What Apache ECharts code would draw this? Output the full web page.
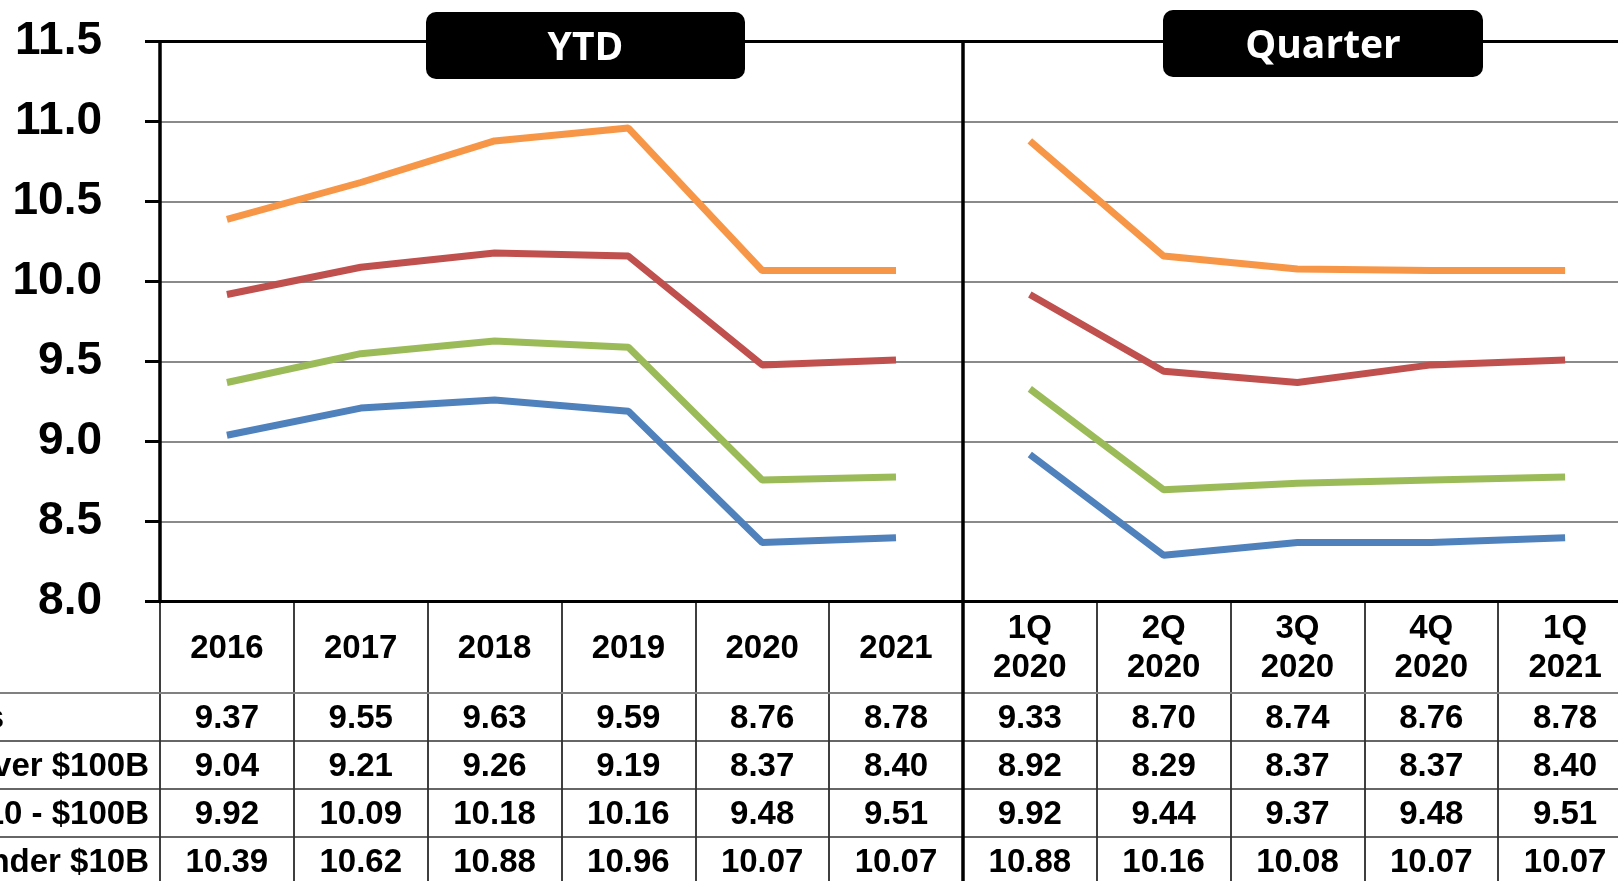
<!DOCTYPE html>
<html>
<head>
<meta charset="utf-8">
<script src="https://cdn.jsdelivr.net/npm/echarts@6/dist/echarts.min.js"></script>
<style>
  html, body { margin: 0; padding: 0; background: #fff; }
  #main { width: 1618px; height: 881px; }
</style>
</head>
<body>
<div id="main"></div>
<script>
// categories (YTD columns, then quarter columns)
const ytdCats = ['2016', '2017', '2018', '2019', '2020', '2021'];
const qtrCats = ['1Q\n2020', '2Q\n2020', '3Q\n2020', '4Q\n2020', '1Q\n2021'];
const yMin = 8.0, yMax = 11.5, yStep = 0.5;

// table rows / series values (YTD 6 values, then 5 quarters)
const rowNames = ['All Banks', 'Over $100B', '$10 - $100B', 'Under $10B'];
const allBanks = [9.37, 9.55, 9.63, 9.59, 8.76, 8.78, 9.33, 8.70, 8.74, 8.76, 8.78];
const over100B = [9.04, 9.21, 9.26, 9.19, 8.37, 8.40, 8.92, 8.29, 8.37, 8.37, 8.40];
const mid10to100B = [9.92, 10.09, 10.18, 10.16, 9.48, 9.51, 9.92, 9.44, 9.37, 9.48, 9.51];
const under10B = [10.39, 10.62, 10.88, 10.96, 10.07, 10.07, 10.88, 10.16, 10.08, 10.07, 10.07];

const rows = [allBanks, over100B, mid10to100B, under10B];
const colors = ['#9BBB59', '#4F81BD', '#C0504D', '#F79646'];
const cats = ytdCats.concat(qtrCats);
const nY = ytdCats.length;

const font = 'Liberation Sans, Arial, sans-serif';

// each row is drawn as two pieces so the YTD and quarter lines stay apart
const series = [];
rows.forEach((vals, k) => {
  const style = { color: colors[k], width: 7 };
  series.push({
    name: rowNames[k] + ' YTD', type: 'line', symbol: 'none',
    lineStyle: style, itemStyle: { color: colors[k] },
    data: vals.slice(0, nY)
  });
  series.push({
    name: rowNames[k] + ' Qtr', type: 'line', symbol: 'none',
    lineStyle: style, itemStyle: { color: colors[k] },
    data: ytdCats.map(() => '-').concat(vals.slice(nY))
  });
});

const chart = echarts.init(document.getElementById('main'));

const option = {
  animation: false,
  backgroundColor: '#fff',
  grid: { left: 160, top: 41.7, width: 1472, height: 560, outerBoundsMode: 'none' },
  xAxis: [
    {
      type: 'category', data: cats, boundaryGap: true, position: 'bottom',
      axisLine: { show: true, lineStyle: { color: '#000', width: 3 } },
      axisTick: { show: true, interval: 0, length: 280, lineStyle: { color: '#000', width: 1.5 } },
      axisLabel: {
        interval: 0, margin: 47, verticalAlign: 'middle', color: '#000',
        fontFamily: font, fontWeight: 'bold', fontSize: 33, lineHeight: 39
      },
      splitLine: { show: false }
    },
    {
      type: 'category', data: cats, position: 'top',
      axisLine: { show: true, lineStyle: { color: '#000', width: 3 } },
      axisTick: { show: false }, axisLabel: { show: false }, splitLine: { show: false }
    }
  ],
  yAxis: {
    type: 'value', min: yMin, max: yMax, interval: yStep,
    axisLine: { show: true, lineStyle: { color: '#000', width: 3.5 } },
    axisTick: { show: true, length: 15, lineStyle: { color: '#000', width: 3 } },
    axisLabel: {
      margin: 58, color: '#000', fontFamily: font, fontWeight: 'bold', fontSize: 46,
      padding: [10, 0, 0, 0],
      formatter: v => v.toFixed(1)
    },
    splitLine: { show: true, lineStyle: { color: '#8a8a8a', width: 2 } }
  },
  series: series
};

chart.setOption(option);

// table under the chart, placed from the category axis scale
const centers = cats.map((c, i) => chart.convertToPixel({ xAxisIndex: 0 }, i));
const divX = Math.round((centers[nY - 1] + centers[nY]) / 2);
const topY = chart.convertToPixel({ yAxisIndex: 0 }, yMax);
const H = 881, W = 1618;
const headBottom = 693, rowH = 48;

const g = [];
// horizontal row lines
for (let r = 0; r < rows.length; r++) {
  const y = headBottom + r * rowH;
  g.push({
    type: 'line', z: 50,
    shape: { x1: 0, y1: y, x2: W, y2: y },
    style: { stroke: r === 0 ? '#808080' : '#333', lineWidth: r === 0 ? 2 : 1.5 }
  });
}
// values
rows.forEach((vals, r) => {
  const cy = headBottom + r * rowH + rowH / 2 + 2;
  vals.forEach((v, i) => {
    g.push({
      type: 'text', z: 51, x: centers[i], y: cy,
      style: {
        text: v.toFixed(2), align: 'center', verticalAlign: 'middle',
        fill: '#000', font: 'bold 33px ' + font
      }
    });
  });
  g.push({
    type: 'text', z: 51, x: r === 0 ? 4 : 149, y: cy,
    style: {
      text: rowNames[r], align: 'right', verticalAlign: 'middle',
      fill: '#000', font: 'bold 33px ' + font
    }
  });
});
// divider between YTD and quarter sections
g.push({
  type: 'line', z: 60,
  shape: { x1: divX, y1: topY, x2: divX, y2: H },
  style: { stroke: '#000', lineWidth: 3.5 }
});
// section heading boxes
[['YTD', 426, 12, 319, 67], ['Quarter', 1163, 10, 320, 67]].forEach(([t, x, y, w, h]) => {
  g.push({
    type: 'group', x: x, y: y, z: 100,
    children: [
      { type: 'rect', z: 100, shape: { x: 0, y: 0, width: w, height: h, r: 10 }, style: { fill: '#000' } },
      {
        type: 'text', z: 101, x: w / 2, y: h / 2 + 3,
        style: {
          text: t, align: 'center', verticalAlign: 'middle', fill: '#fff',
          font: 'bold 39px "Open Sans", "Noto Sans", sans-serif'
        }
      }
    ]
  });
});

chart.setOption({ graphic: g });
</script>
</body>
</html>
